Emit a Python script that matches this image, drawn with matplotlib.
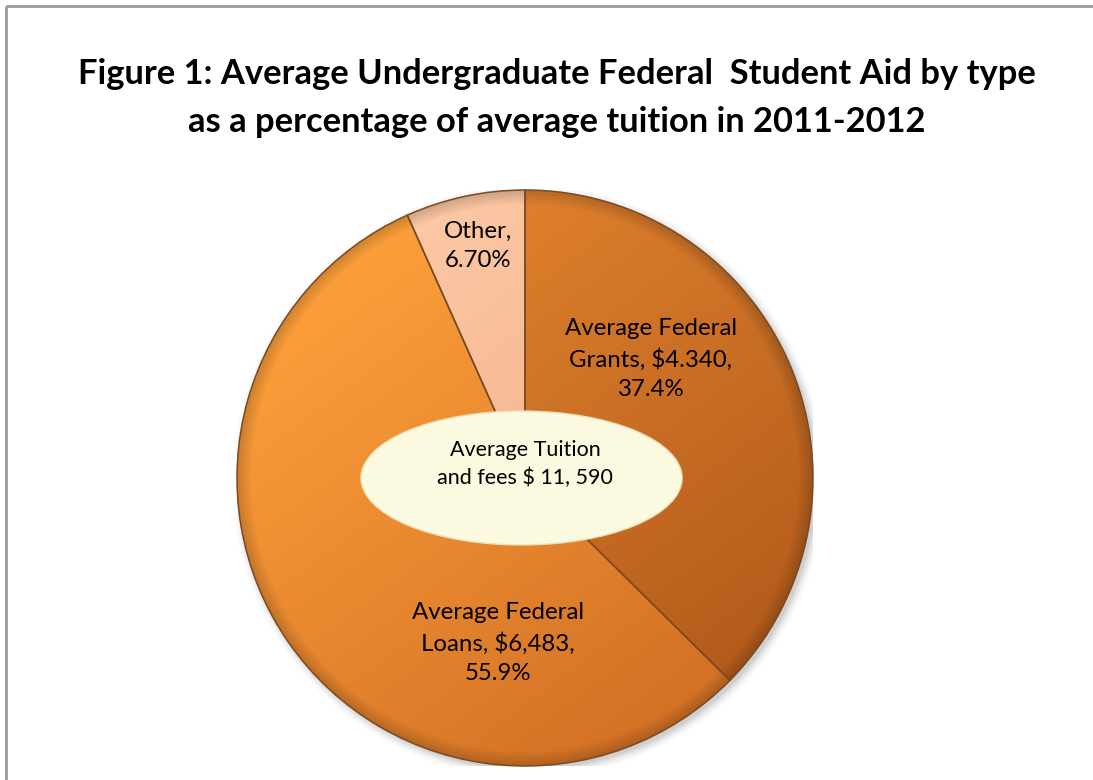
import numpy as np
import matplotlib
matplotlib.use("Agg")
import matplotlib.pyplot as plt
from matplotlib.patches import Ellipse, Rectangle, Circle
from matplotlib.colors import to_rgb

# ---- data -------------------------------------------------------------
categories = ["Average Federal Grants", "Average Federal Loans", "Other"]
amount_labels = ["$4.340", "$6,483", ""]
shares = [37.4, 55.9, 6.70]
share_labels = ["37.4%", "55.9%", "6.70%"]
label_text = [
    "Average Federal\nGrants, $4.340,\n37.4%",
    "Average Federal\nLoans, $6,483,\n55.9%",
    "Other,\n6.70%",
]
center_text = "Average Tuition\nand fees $ 11, 590"
title = ("Figure 1: Average Undergraduate Federal  Student Aid by type\n"
         "as a percentage of average tuition in 2011-2012")

# shading: (lit colour, shaded colour) per slice
slice_shades = [("#E3842F", "#B35B1B"), ("#FDA03A", "#D27025"), ("#FDC9A6", "#EFA57C")]

W, H = 1093, 780
fig = plt.figure(figsize=(W / 100, H / 100), dpi=100)
fig.patch.set_facecolor("white")

# outer frame
frame_ax = fig.add_axes([0, 0, 1, 1])
frame_ax.set_xlim(0, W)
frame_ax.set_ylim(H, 0)
frame_ax.axis("off")
frame_ax.add_patch(Rectangle((6, 6), W + 20, H + 20, fill=False,
                             edgecolor="#9a9a9a", linewidth=2.0))
frame_ax.text(557, 98, title, ha="center", va="center", fontsize=24.8,
              fontweight="bold", family=["Lato", "DejaVu Sans"],
              linespacing=1.6, color="black")

# pie axes: centre at (525, 478) px, radius 288 px
cx, cy, R = 525, 478, 288
ax = fig.add_axes([(cx - R) / W, (H - cy - R) / H, 2 * R / W, 2 * R / H])

wedges, _ = ax.pie(shares, startangle=90, counterclock=False, radius=1.0,
                   wedgeprops=dict(edgecolor="#7a4a22", linewidth=1.1))
ax.set_xlim(-1, 1)
ax.set_ylim(-1, 1)
ax.set_aspect("equal")
ax.axis("off")

# soft drop shadow
for i, a in enumerate(np.linspace(0.05, 0.012, 6)):
    ax.add_patch(Circle((0.012, -0.012), 1.0 + 0.006 * i, facecolor="black",
                        alpha=a, edgecolor="none", zorder=0))

# lighting gradient clipped to each wedge
n = 600
xs = np.linspace(-1, 1, n)
X, Y = np.meshgrid(xs, xs[::-1])
d = np.array([-0.6, 0.8])
t = (X * d[0] + Y * d[1] + 1) / 2
t = np.clip(t, 0, 1)
r = np.hypot(X, Y)
rim = 1 - 0.18 * np.clip((r - 0.95) / 0.05, 0, 1)
for w, (hi, lo) in zip(wedges, slice_shades):
    hi_c, lo_c = np.array(to_rgb(hi)), np.array(to_rgb(lo))
    img = lo_c[None, None, :] + t[..., None] * (hi_c - lo_c)[None, None, :]
    img = np.clip(img * rim[..., None], 0, 1)
    im = ax.imshow(img, extent=(-1, 1, -1, 1), zorder=1, interpolation="bilinear")
    im.set_clip_path(w)
    w.set_facecolor("none")
    w.set_zorder(2)
ax.set_xlim(-1, 1)
ax.set_ylim(-1, 1)

# slice labels
label_pos = [(0.437, 0.413), (-0.094, -0.573), (-0.163, 0.806)]
for (lx, ly), txt in zip(label_pos, label_text):
    ax.text(lx, ly, txt, ha="center", va="center", fontsize=17.3,
            family=["Lato", "DejaVu Sans"], linespacing=1.48, color="black",
            zorder=5)

# central callout
ax.add_patch(Ellipse((-0.012, 0.0), 1.115, 0.465, facecolor="#FBF9DF",
                     edgecolor="#E9E1B8", linewidth=1.0, zorder=4))
ax.text(0.0, 0.049, center_text, ha="center", va="center", fontsize=15.5,
        family=["Lato", "DejaVu Sans"], linespacing=1.5, color="black", zorder=5)

fig.savefig("out.png", dpi=100, facecolor="white")
